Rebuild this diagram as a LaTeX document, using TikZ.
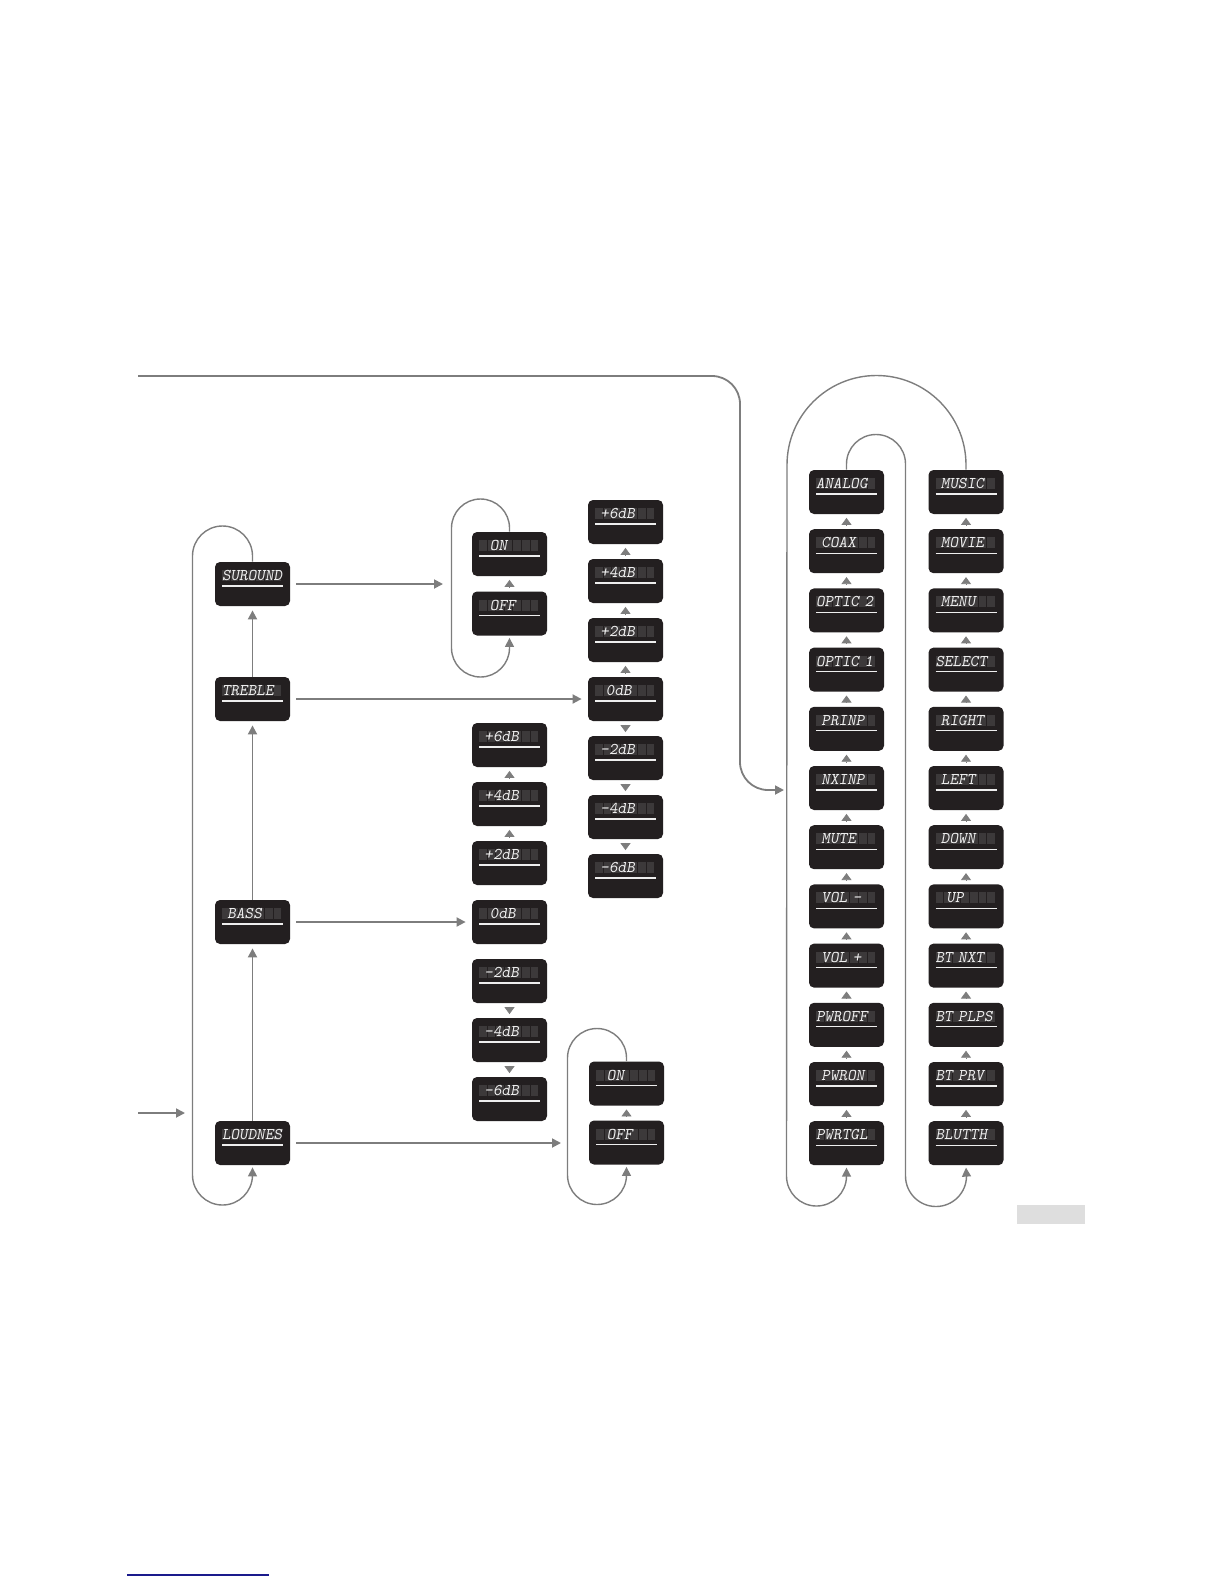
\documentclass[tikz,border=0pt]{standalone}
\usepackage{fontspec}
\usetikzlibrary{arrows.meta, calc}
\definecolor{dispbg}{RGB}{35, 31, 32}
\definecolor{segoff}{RGB}{60, 57, 58}
\definecolor{segon}{RGB}{238, 238, 238}
\definecolor{arrowgray}{RGB}{125, 125, 125}
\definecolor{pagegray}{RGB}{222, 222, 222}
\definecolor{linkblue}{RGB}{26, 26, 140}

\begin{document}
\begin{tikzpicture}[x=0.5pt, y=-0.5pt,
  disp/.style={rectangle, fill=dispbg, rounded corners=2.5pt,
    minimum width=37.5pt, minimum height=22pt,
    inner xsep=3.5pt, inner ysep=0pt, text width=30.5pt,
    text height=9.25pt, text depth=12.75pt, align=left, text=segon,
    font=\fontsize{8.2}{9}\selectfont\ttfamily\slshape,
    path picture={
      \foreach \c in {0,...,6}
        \fill[segoff, sharp corners] ([xshift=3.5pt+\c*4.3pt, yshift=-4pt]path picture bounding box.north west)
          rectangle ++(3.8pt,-5.5pt);
      \draw[segon, line width=0.6pt, sharp corners]
        ([xshift=3.5pt, yshift=-12pt]path picture bounding box.north west) --
        ([xshift=-3.5pt, yshift=-12pt]path picture bounding box.north east);
    }},
  conn/.style={draw=arrowgray, line width=0.9pt, -{Triangle[length=4.5pt, width=4.5pt]}},
  loopline/.style={draw=arrowgray, line width=0.7pt, -{Triangle[length=4.5pt, width=4.5pt]}},
  tick/.style={draw=arrowgray, fill=arrowgray, -{Triangle[length=3.5pt, width=5pt]},
    shorten <=1.75pt, shorten >=1.75pt}]

\useasboundingbox (0,0) rectangle (1224,1584);

% ============================================================
% left: tone menu (SUROUND / TREBLE / BASS / LOUDNES)
% ============================================================
\node[disp] (surround) at (252.5,584)  {SUROUND};
\node[disp] (treble)   at (252.5,699)  {TREBLE};
\node[disp] (bass)     at (252.5,922)  {~BASS};
\node[disp] (loudnes)  at (252.5,1143) {LOUDNES};

% entry from the left
\coordinate (entry) at (138,1113);
\coordinate (entryend) at (185,1113);
\draw[conn] (entry) -- (entryend);

% upward chain
\draw[conn, shorten >=2pt] (loudnes.north) -- (bass.south);
\draw[conn, shorten >=2pt] (bass.north) -- (treble.south);
\draw[conn, shorten >=2pt] (treble.north) -- (surround.south);

% wrap round: SUROUND back to LOUDNES
\draw[loopline] (surround.north) -- (252.5,556)
  arc[start angle=0, end angle=180, radius=15pt] -- (192.5,1175)
  arc[start angle=180, end angle=360, radius=15pt] -- ([yshift=-1pt]loudnes.south);

% surround on/off
\node[disp] (son)  at (509.5,554)   {~~ON};
\node[disp] (soff) at (509.5,613.5) {~~OFF};
\draw[tick] (soff.north) -- (son.south);
\draw[loopline] (son.north) -- (509.5,528)
  arc[start angle=0, end angle=180, radius=14.5pt] -- (451.5,648)
  arc[start angle=180, end angle=360, radius=14.5pt] -- ([yshift=-1pt]soff.south);
\coordinate (sarr) at (443,584);
\draw[conn] ([xshift=3pt]surround.east) -- (sarr);

% treble levels
\foreach \lbl [count=\k from 0] in {~+6dB,~+4dB,~+2dB,~~0dB,~-2dB,~-4dB,~-6dB}
  \node[disp] (t\k) at (625.5,522+59*\k) {\lbl};
\foreach \k/\j in {0/1,1/2,2/3} \draw[tick] (t\j.north) -- (t\k.south);
\foreach \k/\j in {3/4,4/5,5/6} \draw[tick] (t\k.south) -- (t\j.north);
\draw[conn] ([xshift=3pt]treble.east) -- ([xshift=-3pt]t3.west);

% bass levels
\foreach \lbl [count=\k from 0] in {~+6dB,~+4dB,~+2dB,~~0dB,~-2dB,~-4dB,~-6dB}
  \node[disp] (b\k) at (509.5,745+59*\k) {\lbl};
\foreach \k/\j in {0/1,1/2} \draw[tick] (b\j.north) -- (b\k.south);
\foreach \k/\j in {4/5,5/6} \draw[tick] (b\k.south) -- (b\j.north);
\draw[conn] ([xshift=3pt]bass.east) -- ([xshift=-3pt]b3.west);

% loudness on/off
\node[disp] (lon)  at (626.5,1083.5) {~~ON};
\node[disp] (loff) at (626.5,1142.5) {~~OFF};
\draw[tick] (loff.north) -- (lon.south);
\draw[loopline] (lon.north) -- (626.5,1058)
  arc[start angle=0, end angle=180, radius=14.75pt] -- (567.5,1175)
  arc[start angle=180, end angle=360, radius=14.75pt] -- ([yshift=-1pt]loff.south);
\coordinate (larr) at (561,1143);
\draw[conn] ([xshift=3pt]loudnes.east) -- (larr);

% ============================================================
% right: input / remote learn lists
% ============================================================
\foreach \lbl [count=\k from 0] in {ANALOG,~COAX,OPTIC~2,OPTIC~1,~PRINP,~NXINP,~MUTE,~VOL~-,~VOL~+,PWROFF,~PWRON,PWRTGL}
  \node[disp] (in\k) at (846.5,492+59.2*\k) {\lbl};
\foreach \lbl [count=\k from 0] in {~MUSIC,~MOVIE,~MENU,SELECT,~RIGHT,~LEFT,~DOWN,~~UP,BT~NXT,BT~PLPS,BT~PRV,BLUTTH}
  \node[disp] (rc\k) at (966,492+59.2*\k) {\lbl};
\foreach \k in {0,...,10} {
  \pgfmathtruncatemacro\j{\k+1}
  \draw[tick] (in\j.north) -- (in\k.south);
  \draw[tick] (rc\j.north) -- (rc\k.south);
}

% ANALOG over into the second list
\draw[loopline] (in0.north) -- (846.5,464)
  arc[start angle=180, end angle=0, radius=14.75pt] -- (905.5,1176)
  arc[start angle=180, end angle=360, radius=15.25pt] -- ([yshift=-1pt]rc11.south);

% MUSIC back over into the first list
\draw[loopline] (rc0.north) -- (966,465)
  arc[start angle=0, end angle=180, radius=44.75pt] -- (786.5,1176)
  arc[start angle=180, end angle=360, radius=15pt] -- ([yshift=-1pt]in11.south);

% wrap line from the top
\coordinate (wrap) at (138,376);
\coordinate (wrapend) at (784,790);
\draw[conn, rounded corners=14pt] (wrap) -- (740,376) -- (740,790) -- (wrapend);

% page furniture
\fill[pagegray] (1017,1205) rectangle (1085,1224);
\draw[linkblue, line width=0.8pt] (127,1575) -- (269,1575);

\end{tikzpicture}
\end{document}
